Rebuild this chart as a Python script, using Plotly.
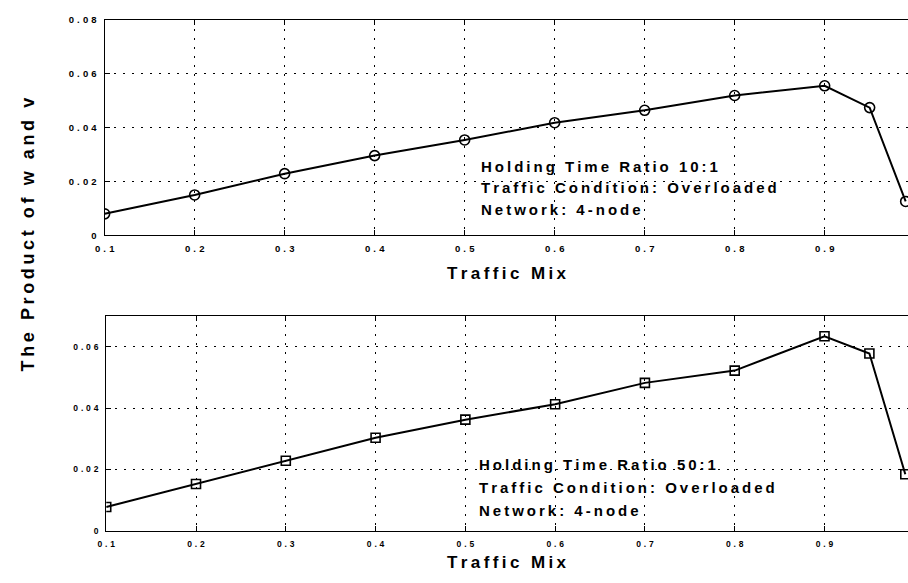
import plotly.graph_objects as go

# Traffic mix values on the x axis
traffic_mix = [0.1, 0.2, 0.3, 0.4, 0.5, 0.6, 0.7, 0.8, 0.9, 0.95, 0.99]

# Product of w and v, holding time ratio 10:1 and 50:1
product_10 = [0.0080, 0.0150, 0.0229, 0.0296, 0.0354, 0.0418, 0.0464, 0.0519, 0.0555, 0.0474, 0.0126]
product_50 = [0.0077, 0.0152, 0.0228, 0.0303, 0.0362, 0.0412, 0.0482, 0.0522, 0.0634, 0.0578, 0.0184]

x_ticks = [0.1, 0.2, 0.3, 0.4, 0.5, 0.6, 0.7, 0.8, 0.9]
y_ticks_top = [0, 0.02, 0.04, 0.06, 0.08]
y_ticks_bottom = [0, 0.02, 0.04, 0.06]

note_10 = ["Holding Time Ratio 10:1", "Traffic Condition: Overloaded", "Network: 4-node"]
note_50 = ["Holding Time Ratio 50:1", "Traffic Condition: Overloaded", "Network: 4-node"]

FONT = "Liberation Sans, Arial, sans-serif"


def spaced(s, gap="\u2009"):
    return gap.join(list(s))


def tick_text(vals, fmt):
    return [spaced("0" if v == 0 else fmt.format(v), "\u2004") for v in vals]


W, H = 908, 583
fig = go.Figure()

fig.add_trace(go.Scatter(
    x=traffic_mix, y=product_10, mode="lines+markers",
    line=dict(color="black", width=2),
    marker=dict(symbol="circle-open", size=10, color="black", line=dict(width=1.6)),
    xaxis="x", yaxis="y", showlegend=False))
fig.add_trace(go.Scatter(
    x=traffic_mix, y=product_50, mode="lines+markers",
    line=dict(color="black", width=2),
    marker=dict(symbol="square-open", size=9, color="black", line=dict(width=1.6)),
    xaxis="x2", yaxis="y2", showlegend=False))

axis_common = dict(
    showgrid=True, gridcolor="black", gridwidth=1, griddash="2px,7px",
    showline=True, linecolor="black", linewidth=1.2,
    ticks="inside", ticklen=5, tickcolor="black", zeroline=False,
)

fig.update_layout(
    width=W, height=H,
    margin=dict(l=0, r=0, t=0, b=0),
    paper_bgcolor="white", plot_bgcolor="white",
    font=dict(family=FONT, color="black"),
    xaxis=dict(domain=[95.7 / W, 1], anchor="y", range=[0.1, 0.9926], mirror="ticks",
               tickvals=x_ticks, ticktext=tick_text(x_ticks, "{:.1f}"),
               tickfont=dict(size=9.5, weight="bold"), ticklabelstandoff=4,
               **axis_common),
    yaxis=dict(domain=[1 - 233.8 / H, 1 - 14 / H], anchor="x", range=[0, 0.08], mirror=False,
               tickvals=y_ticks_top, ticktext=tick_text(y_ticks_top, "{:.2f}"),
               tickfont=dict(size=9.5, weight="bold"), ticklabelstandoff=5,
               **axis_common),
    xaxis2=dict(domain=[97.3 / W, 1], anchor="y2", range=[0.1, 0.993], mirror="ticks",
                tickvals=x_ticks, ticktext=tick_text(x_ticks, "{:.1f}"),
                tickfont=dict(size=8.5, weight="bold"), ticklabelstandoff=5,
                **axis_common),
    yaxis2=dict(domain=[1 - 534.7 / H, 1 - 315.7 / H], anchor="x2", range=[0, 0.0701], mirror=False,
                tickvals=y_ticks_bottom, ticktext=tick_text(y_ticks_bottom, "{:.2f}"),
                tickfont=dict(size=8.5, weight="bold"), ticklabelstandoff=5,
                **axis_common),
)

annotations = []
# Axis titles
for yc in (273, 567):
    annotations.append(dict(
        x=503 / W, y=1 - yc / H, xref="paper", yref="paper",
        text=spaced("Traffic Mix"), showarrow=False,
        font=dict(size=17, weight="bold", family=FONT), xanchor="center", yanchor="middle"))
annotations.append(dict(
    x=18 / W, y=1 - 233 / H, xref="paper", yref="paper",
    text=spaced("The Product of w and v"), showarrow=False, textangle=-90,
    font=dict(size=18, weight="bold", family=FONT), xanchor="center", yanchor="middle"))

# Condition notes inside each panel
for lines, x0, ys in ((note_10, 474, (164, 185, 207)), (note_50, 472, (467, 491, 514))):
    for t, yc in zip(lines, ys):
        annotations.append(dict(
            x=x0 / W, y=1 - yc / H, xref="paper", yref="paper",
            text=spaced(t), showarrow=False,
            font=dict(size=15, weight="bold", family=FONT),
            xanchor="left", yanchor="middle"))

fig.update_layout(annotations=annotations)

fig.write_html("out.html")
